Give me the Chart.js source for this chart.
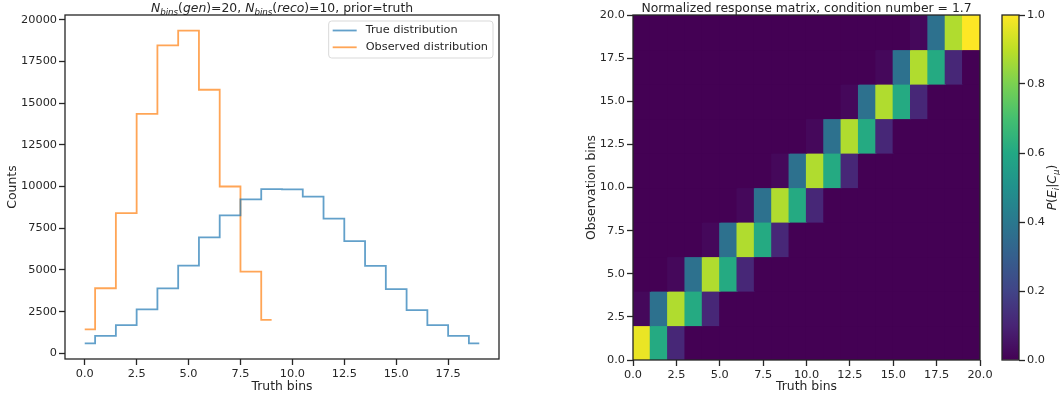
<!DOCTYPE html>
<html>
<head>
<meta charset="utf-8">
<script src="https://cdn.jsdelivr.net/npm/chart.js@4.4.0/dist/chart.umd.min.js"></script>
<style>
    body { margin: 0; background: #fff; width: 1060px; height: 398px; position: relative; overflow: hidden; }
    canvas { position: absolute; top: 0; }
    #histChart { left: 0; }
    #matrixChart { left: 540px; }
    #cbarChart { left: 1000px; }
</style>
</head>
<body>
<canvas id="histChart" width="520" height="398"></canvas>
<canvas id="matrixChart" width="460" height="398"></canvas>
<canvas id="cbarChart" width="60" height="398"></canvas>
<script>
// Histogram data (step plots, one value per bin)
const trueCounts = [600, 1050, 1690, 2630, 3890, 5260, 6950, 8270, 9230, 9840,
                    9830, 9390, 8070, 6730, 5240, 3850, 2590, 1690, 1050, 600];
const observedCounts = [1440, 3900, 8410, 14350, 18460, 19340, 15800, 10000, 4900, 2010];

const histXTicks = [0, 2.5, 5, 7.5, 10, 12.5, 15, 17.5];
const histYTicks = [0, 2500, 5000, 7500, 10000, 12500, 15000, 17500, 20000];

// Response matrix: rows = observation bins, columns = truth bins
const truthEdges = [0, 1, 2, 3, 4, 5, 6, 7, 8, 9, 10, 11, 12, 13, 14, 15, 16, 17, 18, 19, 20];
const obsEdges = [0, 2, 4, 6, 8, 10, 12, 14, 16, 18, 20];
const responseMatrix = [
    [0.97, 0.61, 0.11, 0, 0, 0, 0, 0, 0, 0, 0, 0, 0, 0, 0, 0, 0, 0, 0, 0],
    [0.02, 0.37, 0.88, 0.61, 0.11, 0, 0, 0, 0, 0, 0, 0, 0, 0, 0, 0, 0, 0, 0, 0],
    [0, 0, 0.02, 0.37, 0.88, 0.61, 0.11, 0, 0, 0, 0, 0, 0, 0, 0, 0, 0, 0, 0, 0],
    [0, 0, 0, 0, 0.02, 0.37, 0.88, 0.61, 0.11, 0, 0, 0, 0, 0, 0, 0, 0, 0, 0, 0],
    [0, 0, 0, 0, 0, 0, 0.02, 0.37, 0.88, 0.61, 0.11, 0, 0, 0, 0, 0, 0, 0, 0, 0],
    [0, 0, 0, 0, 0, 0, 0, 0, 0.02, 0.37, 0.88, 0.61, 0.11, 0, 0, 0, 0, 0, 0, 0],
    [0, 0, 0, 0, 0, 0, 0, 0, 0, 0, 0.02, 0.37, 0.88, 0.61, 0.11, 0, 0, 0, 0, 0],
    [0, 0, 0, 0, 0, 0, 0, 0, 0, 0, 0, 0, 0.02, 0.37, 0.88, 0.61, 0.11, 0, 0, 0],
    [0, 0, 0, 0, 0, 0, 0, 0, 0, 0, 0, 0, 0, 0, 0.02, 0.37, 0.88, 0.61, 0.11, 0],
    [0, 0, 0, 0, 0, 0, 0, 0, 0, 0, 0, 0, 0, 0, 0, 0, 0.02, 0.37, 0.88, 1.0]
];
const matrixTicks = [0, 2.5, 5, 7.5, 10, 12.5, 15, 17.5, 20];
const cbarTicks = [0, 0.2, 0.4, 0.6, 0.8, 1.0];

// viridis colormap stops
const VIRIDIS = ['#440154', '#482475', '#414487', '#355f8d', '#2a788e', '#21918c',
                 '#22a884', '#44bf70', '#7ad151', '#bddf26', '#fde725'];

function hexToRgb(h) {
    return [parseInt(h.slice(1, 3), 16), parseInt(h.slice(3, 5), 16), parseInt(h.slice(5, 7), 16)];
}

function viridis(v) {
    v = Math.max(0, Math.min(1, v));
    const pos = v * (VIRIDIS.length - 1);
    const i = Math.min(Math.floor(pos), VIRIDIS.length - 2);
    const f = pos - i;
    const a = hexToRgb(VIRIDIS[i]), b = hexToRgb(VIRIDIS[i + 1]);
    const c = a.map((x, k) => Math.round(x + (b[k] - x) * f));
    return `rgb(${c[0]},${c[1]},${c[2]})`;
}

const INK = '#262626';
const FONT = "'DejaVu Sans'";
const TICK_SIZE = 11.3;
const LABEL_SIZE = 12.4;
Chart.defaults.font.family = FONT;
Chart.defaults.font.size = TICK_SIZE;
Chart.defaults.color = INK;

// draws text made of segments (italic / subscript), horizontally centered at x
function drawRichText(ctx, segs, x, y, size) {
    const fontOf = s => `${s.italic ? 'italic ' : ''}${s.sub ? size * 0.7 : size}px ${FONT}`;
    let total = 0;
    segs.forEach(s => { ctx.font = fontOf(s); total += ctx.measureText(s.t).width; });
    let cx = x - total / 2;
    ctx.textAlign = 'left';
    ctx.textBaseline = 'alphabetic';
    segs.forEach(s => {
        ctx.font = fontOf(s);
        ctx.fillText(s.t, cx, y + (s.sub ? size * 0.25 : 0));
        cx += ctx.measureText(s.t).width;
    });
}

const framePlugin = {
    id: 'frame',
    afterDraw(chart) {
        const {ctx, chartArea: a} = chart;
        ctx.save();
        ctx.strokeStyle = INK;
        ctx.lineWidth = 1.3;
        ctx.strokeRect(a.left, a.top, a.right - a.left, a.bottom - a.top);
        ctx.restore();
    }
};

const titlePlugin = {
    id: 'richTitle',
    afterDraw(chart, args, opts) {
        if (!opts.segs) return;
        const {ctx, chartArea: a} = chart;
        ctx.save();
        ctx.fillStyle = INK;
        drawRichText(ctx, opts.segs, (a.left + a.right) / 2, opts.y, LABEL_SIZE);
        ctx.restore();
    }
};

const histLegendPlugin = {
    id: 'histLegend',
    afterDraw(chart) {
        const {ctx, chartArea: a} = chart;
        const items = chart.data.datasets;
        ctx.save();
        ctx.font = `${TICK_SIZE}px ${FONT}`;
        const textW = Math.max(...items.map(d => ctx.measureText(d.label).width));
        const w = 37 + textW + 5;
        const h = 37;
        const x0 = a.right - 6 - w, y0 = a.top + 6;
        ctx.beginPath();
        ctx.roundRect(x0, y0, w, h, 3);
        ctx.fillStyle = 'rgba(255,255,255,0.8)';
        ctx.fill();
        ctx.strokeStyle = '#d9d9d9';
        ctx.lineWidth = 1;
        ctx.stroke();
        items.forEach((d, i) => {
            const y = y0 + 9.5 + i * 16.8;
            ctx.strokeStyle = d.borderColor;
            ctx.lineWidth = 1.8;
            ctx.beginPath();
            ctx.moveTo(x0 + 4, y);
            ctx.lineTo(x0 + 28, y);
            ctx.stroke();
            ctx.fillStyle = INK;
            ctx.textBaseline = 'middle';
            ctx.fillText(d.label, x0 + 37, y);
        });
        ctx.restore();
    }
};

const cbarLabelPlugin = {
    id: 'cbarLabel',
    afterDraw(chart) {
        const {ctx, chartArea: a} = chart;
        ctx.save();
        ctx.translate(56, (a.top + a.bottom) / 2);
        ctx.rotate(-Math.PI / 2);
        ctx.fillStyle = INK;
        drawRichText(ctx, [
            {t: 'P', italic: true}, {t: '('}, {t: 'E', italic: true}, {t: 'i', italic: true, sub: true},
            {t: '|'}, {t: 'C', italic: true}, {t: 'μ', italic: true, sub: true}, {t: ')'}
        ], 0, 0, LABEL_SIZE);
        ctx.restore();
    }
};

function tickGrid() {
    return {display: true, drawOnChartArea: false, drawTicks: true, tickLength: 6, tickWidth: 1.3, tickColor: INK};
}

function fixedTicks(list) {
    return scale => { scale.ticks = list.map(v => ({value: v})); };
}

// ---------- left: histograms ----------
new Chart(document.getElementById('histChart'), {
    type: 'line',
    data: {
        datasets: [{
            label: 'True distribution',
            data: trueCounts.map((v, i) => ({x: i, y: v})),
            borderColor: 'rgba(31,119,180,0.7)',
            borderWidth: 1.8,
            pointRadius: 0,
            stepped: 'middle',
            fill: false
        }, {
            label: 'Observed distribution',
            data: observedCounts.map((v, i) => ({x: i, y: v})),
            borderColor: 'rgba(255,127,14,0.7)',
            borderWidth: 1.8,
            pointRadius: 0,
            stepped: 'middle',
            fill: false
        }]
    },
    options: {
        responsive: false,
        animation: false,
        layout: {padding: {top: 15, right: 21, left: 0, bottom: 0}},
        plugins: {
            legend: {display: false},
            tooltip: {enabled: false},
            richTitle: {
                y: 11.5,
                segs: [
                    {t: 'N', italic: true}, {t: 'bins', italic: true, sub: true}, {t: '('}, {t: 'gen', italic: true},
                    {t: ')=20, '}, {t: 'N', italic: true}, {t: 'bins', italic: true, sub: true}, {t: '('},
                    {t: 'reco', italic: true}, {t: ')=10, prior=truth'}
                ]
            }
        },
        scales: {
            x: {
                type: 'linear',
                min: -0.95,
                max: 19.95,
                afterBuildTicks: fixedTicks(histXTicks),
                afterFit: s => { s.height = 39; },
                ticks: {padding: 2, callback: v => v.toFixed(1)},
                grid: tickGrid(),
                border: {display: false},
                title: {display: true, text: 'Truth bins', font: {size: LABEL_SIZE}, padding: {top: 0, bottom: 4}}
            },
            y: {
                type: 'linear',
                min: -340,
                max: 20280,
                afterBuildTicks: fixedTicks(histYTicks),
                afterFit: s => { s.width = 65; },
                ticks: {padding: 2, callback: v => String(v)},
                grid: tickGrid(),
                border: {display: false},
                title: {display: true, text: 'Counts', font: {size: LABEL_SIZE}, padding: {top: 5, bottom: 0}}
            }
        }
    },
    plugins: [framePlugin, titlePlugin, histLegendPlugin]
});

// ---------- right: response matrix ----------
const cells = [];
responseMatrix.forEach((row, i) => {
    row.forEach((v, j) => {
        cells.push({x: (truthEdges[j] + truthEdges[j + 1]) / 2, y: [obsEdges[i], obsEdges[i + 1]], v: v});
    });
});

new Chart(document.getElementById('matrixChart'), {
    type: 'bar',
    data: {
        datasets: [{
            data: cells,
            backgroundColor: c => viridis(c.raw ? c.raw.v : 0),
            borderWidth: 0,
            inflateAmount: 0.6,
            barPercentage: 1,
            categoryPercentage: 1
        }]
    },
    options: {
        responsive: false,
        animation: false,
        layout: {padding: {top: 15, right: 20, left: 0, bottom: 0}},
        plugins: {
            legend: {display: false},
            tooltip: {enabled: false},
            richTitle: {
                y: 11.5,
                segs: [{t: 'Normalized response matrix, condition number = 1.7'}]
            }
        },
        scales: {
            x: {
                type: 'linear',
                min: 0,
                max: 20,
                offset: false,
                afterBuildTicks: fixedTicks(matrixTicks),
                afterFit: s => { s.height = 38; },
                ticks: {padding: 2, callback: v => v.toFixed(1)},
                grid: Object.assign(tickGrid(), {offset: false}),
                border: {display: false},
                title: {display: true, text: 'Truth bins', font: {size: LABEL_SIZE}, padding: {top: 0, bottom: 4}}
            },
            y: {
                type: 'linear',
                min: 0,
                max: 20,
                afterBuildTicks: fixedTicks(matrixTicks),
                afterFit: s => { s.width = 93; },
                ticks: {padding: 2, callback: v => v.toFixed(1)},
                grid: tickGrid(),
                border: {display: false},
                title: {display: true, text: 'Observation bins', font: {size: LABEL_SIZE}, padding: {top: 44, bottom: 0}}
            }
        }
    },
    plugins: [framePlugin, titlePlugin]
});

// ---------- colorbar ----------
new Chart(document.getElementById('cbarChart'), {
    type: 'bar',
    data: {
        labels: ['cbar'],
        datasets: [{
            data: [[0, 1]],
            backgroundColor: c => {
                const a = c.chart.chartArea;
                if (!a) return viridis(0.5);
                const g = c.chart.ctx.createLinearGradient(0, a.bottom, 0, a.top);
                VIRIDIS.forEach((col, k) => g.addColorStop(k / (VIRIDIS.length - 1), col));
                return g;
            },
            borderWidth: 0,
            barPercentage: 1,
            categoryPercentage: 1
        }]
    },
    options: {
        responsive: false,
        animation: false,
        layout: {padding: {top: 15, right: 0, left: 2, bottom: 38}},
        plugins: {legend: {display: false}, tooltip: {enabled: false}},
        scales: {
            x: {display: false},
            y: {
                position: 'right',
                type: 'linear',
                min: 0,
                max: 1,
                afterBuildTicks: fixedTicks(cbarTicks),
                afterFit: s => { s.width = 41; },
                ticks: {padding: 2, callback: v => v.toFixed(1)},
                grid: tickGrid(),
                border: {display: false}
            }
        }
    },
    plugins: [framePlugin, cbarLabelPlugin]
});
</script>
</body>
</html>
